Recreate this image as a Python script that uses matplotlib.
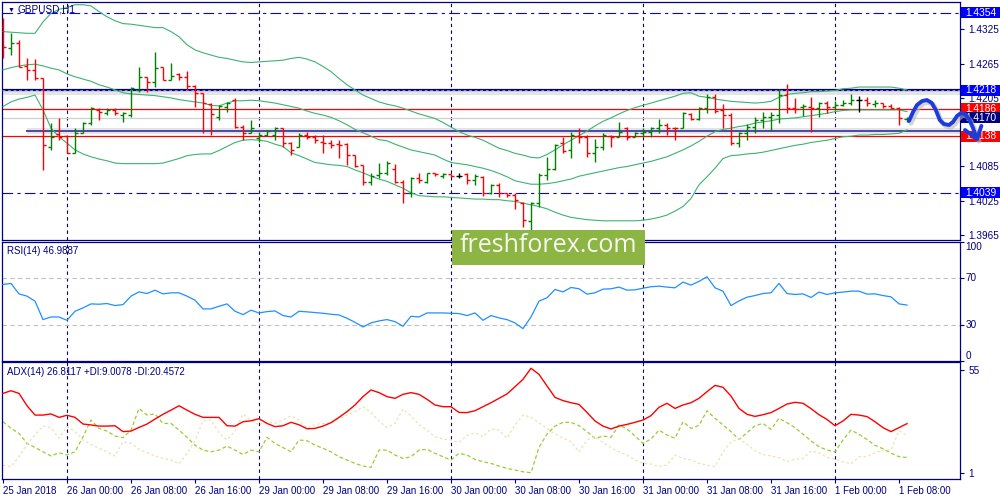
import matplotlib
matplotlib.use("Agg")
import matplotlib.pyplot as plt
import matplotlib.transforms as mtransforms
from matplotlib.patches import Rectangle
import numpy as np

plt.rcParams['font.family'] = ['Liberation Sans', 'DejaVu Sans']

# ---------------- data ----------------
symbol_title = "GBPUSD,H1"
time_labels = ["25 Jan 2018", "26 Jan 00:00", "26 Jan 08:00", "26 Jan 16:00",
               "29 Jan 00:00", "29 Jan 08:00", "29 Jan 16:00", "30 Jan 00:00",
               "30 Jan 08:00", "30 Jan 16:00", "31 Jan 00:00", "31 Jan 08:00",
               "31 Jan 16:00", "1 Feb 00:00", "1 Feb 08:00"]
bars_per_label = 8

opens = [1.43297, 1.42929, 1.43005, 1.42609, 1.42539, 1.42393, 1.41198, 1.41414, 1.41384, 1.41081,
         1.41431, 1.41606, 1.41839, 1.41781, 1.41839, 1.41752, 1.41752, 1.42189, 1.42422, 1.42335,
         1.42597, 1.42364, 1.42469, 1.42410, 1.42259, 1.42131, 1.41944, 1.41723, 1.41886, 1.42014,
         1.41548, 1.41431, 1.41344, 1.41402, 1.41402, 1.41519, 1.41268, 1.41198, 1.41402, 1.41373,
         1.41285, 1.41256, 1.41245, 1.41245, 1.41052, 1.40877, 1.40586, 1.40702, 1.40743, 1.40801,
         1.40586, 1.40382, 1.40644, 1.40586, 1.40731, 1.40685, 1.40720, 1.40691, 1.40720, 1.40615,
         1.40673, 1.40393, 1.40527, 1.40382, 1.40353, 1.40218, 1.39904, 1.40218, 1.40702, 1.40801,
         1.41256, 1.41140, 1.41384, 1.41373, 1.41093, 1.41198, 1.41390, 1.41373, 1.41519, 1.41373,
         1.41443, 1.41460, 1.41519, 1.41577, 1.41530, 1.41519, 1.41769, 1.41676, 1.41868, 1.42072,
         1.41839, 1.41752, 1.41268, 1.41443, 1.41548, 1.41664, 1.41723, 1.41752, 1.42102, 1.41868,
         1.41886, 1.41886, 1.41868, 1.41956, 1.41897, 1.41927, 1.41967, 1.42014, 1.42014, 1.41944,
         1.41956, 1.41909, 1.41868, 1.41676]
highs = [1.43442, 1.43180, 1.43063, 1.42743, 1.42725, 1.42393, 1.41606, 1.41693, 1.41402, 1.41519,
         1.41635, 1.41897, 1.41868, 1.41868, 1.41868, 1.41810, 1.42247, 1.42597, 1.42422, 1.42859,
         1.42597, 1.42655, 1.42480, 1.42527, 1.42276, 1.42142, 1.41956, 1.41927, 1.41985, 1.42043,
         1.41577, 1.41664, 1.41460, 1.41490, 1.41548, 1.41530, 1.41285, 1.41431, 1.41460, 1.41402,
         1.41402, 1.41314, 1.41314, 1.41268, 1.41052, 1.40877, 1.40731, 1.40906, 1.40953, 1.40895,
         1.40615, 1.40661, 1.40731, 1.40743, 1.40743, 1.40731, 1.40720, 1.40731, 1.40731, 1.40720,
         1.40685, 1.40539, 1.40568, 1.40393, 1.40382, 1.40236, 1.40236, 1.40731, 1.41023, 1.41245,
         1.41361, 1.41460, 1.41530, 1.41402, 1.41326, 1.41443, 1.41402, 1.41635, 1.41536, 1.41460,
         1.41519, 1.41548, 1.41676, 1.41606, 1.41548, 1.41810, 1.41781, 1.41886, 1.42113, 1.42113,
         1.41944, 1.41781, 1.41460, 1.41594, 1.41711, 1.41810, 1.41810, 1.42201, 1.42294, 1.42043,
         1.41944, 1.42072, 1.41985, 1.41997, 1.41997, 1.42014, 1.42113, 1.42090, 1.42072, 1.42014,
         1.41956, 1.41944, 1.41886, 1.41723]
lows = [1.42743, 1.42801, 1.42597, 1.42364, 1.42364, 1.40790, 1.41140, 1.41314, 1.41081, 1.41081,
        1.41431, 1.41577, 1.41664, 1.41752, 1.41752, 1.41635, 1.41723, 1.42160, 1.42160, 1.42247,
        1.42364, 1.42364, 1.42364, 1.42189, 1.41897, 1.41431, 1.41402, 1.41664, 1.41810, 1.41519,
        1.41314, 1.41431, 1.41285, 1.41384, 1.41314, 1.41198, 1.41052, 1.41186, 1.41326, 1.41256,
        1.41081, 1.41169, 1.40994, 1.40877, 1.40848, 1.40527, 1.40527, 1.40644, 1.40702, 1.40568,
        1.40207, 1.40312, 1.40557, 1.40568, 1.40685, 1.40644, 1.40661, 1.40644, 1.40545, 1.40527,
        1.40335, 1.40370, 1.40323, 1.40312, 1.40102, 1.39799, 1.39740, 1.40148, 1.40615, 1.40790,
        1.41081, 1.40994, 1.41256, 1.41023, 1.40936, 1.41140, 1.41198, 1.41373, 1.41314, 1.41361,
        1.41373, 1.41373, 1.41443, 1.41402, 1.41314, 1.41519, 1.41664, 1.41664, 1.41793, 1.41793,
        1.41519, 1.41227, 1.41186, 1.41314, 1.41431, 1.41519, 1.41478, 1.41606, 1.41781, 1.41781,
        1.41734, 1.41460, 1.41723, 1.41781, 1.41839, 1.41909, 1.41927, 1.41810, 1.41909, 1.41886,
        1.41868, 1.41851, 1.41577, 1.41635]
closes = [1.42947, 1.43005, 1.42597, 1.42539, 1.42393, 1.41227, 1.41373, 1.41373, 1.41081, 1.41431,
          1.41606, 1.41868, 1.41810, 1.41839, 1.41781, 1.41781, 1.42218, 1.42422, 1.42335, 1.42568,
          1.42364, 1.42434, 1.42410, 1.42259, 1.42131, 1.41956, 1.41769, 1.41909, 1.41956, 1.41548,
          1.41431, 1.41519, 1.41402, 1.41478, 1.41519, 1.41256, 1.41140, 1.41402, 1.41361, 1.41314,
          1.41256, 1.41227, 1.41227, 1.41052, 1.40860, 1.40586, 1.40685, 1.40743, 1.40906, 1.40586,
          1.40382, 1.40644, 1.40615, 1.40731, 1.40720, 1.40720, 1.40691, 1.40691, 1.40615, 1.40685,
          1.40393, 1.40527, 1.40382, 1.40353, 1.40265, 1.39915, 1.40218, 1.40702, 1.40801, 1.41227,
          1.41128, 1.41402, 1.41361, 1.41081, 1.41198, 1.41402, 1.41373, 1.41460, 1.41373, 1.41443,
          1.41460, 1.41530, 1.41577, 1.41530, 1.41519, 1.41781, 1.41676, 1.41868, 1.42072, 1.41827,
          1.41752, 1.41256, 1.41443, 1.41548, 1.41664, 1.41723, 1.41752, 1.42102, 1.41868, 1.41850,
          1.41909, 1.41868, 1.41956, 1.41897, 1.41927, 1.41967, 1.42014, 1.42014, 1.41956, 1.41967,
          1.41909, 1.41868, 1.41694, 1.41700]

bb_upper = [1.4321, 1.4320, 1.4319, 1.4318, 1.4318, 1.4338, 1.4353, 1.4360, 1.4363, 1.4368,
            1.4368, 1.4366, 1.4356, 1.4347, 1.4340, 1.4335, 1.4334, 1.4332, 1.4330, 1.4328,
            1.4328, 1.4321, 1.4312, 1.4298, 1.4289, 1.4284, 1.4280, 1.4276, 1.4274, 1.4271,
            1.4268, 1.4267, 1.4268, 1.4269, 1.4270, 1.4271, 1.4274, 1.4276, 1.4273, 1.4268,
            1.4260, 1.4251, 1.4239, 1.4228, 1.4219, 1.4210, 1.4204, 1.4198, 1.4194, 1.4191,
            1.4187, 1.4182, 1.4177, 1.4173, 1.4169, 1.4162, 1.4154, 1.4146, 1.4140, 1.4136,
            1.4131, 1.4124, 1.4117, 1.4113, 1.4108, 1.4105, 1.4101, 1.4100, 1.4106, 1.4114,
            1.4123, 1.4131, 1.4139, 1.4147, 1.4156, 1.4164, 1.4170, 1.4177, 1.4183, 1.4188,
            1.4192, 1.4196, 1.4200, 1.4204, 1.4208, 1.4213, 1.4214, 1.4208, 1.4206, 1.4203,
            1.4201, 1.4199, 1.4198, 1.4197, 1.4196, 1.4197, 1.4199, 1.4206, 1.4211, 1.4213,
            1.4214, 1.4216, 1.4216, 1.4217, 1.4218, 1.4221, 1.4222, 1.4224, 1.4224, 1.4224,
            1.4224, 1.4224, 1.4222, 1.4219]
bb_middle = [1.4254, 1.4258, 1.4261, 1.4263, 1.4264, 1.4261, 1.4257, 1.4254, 1.4247, 1.4242,
             1.4238, 1.4234, 1.4228, 1.4224, 1.4219, 1.4214, 1.4212, 1.4211, 1.4210, 1.4209,
             1.4207, 1.4205, 1.4202, 1.4200, 1.4198, 1.4196, 1.4192, 1.4191, 1.4196, 1.4200,
             1.4200, 1.4201, 1.4200, 1.4198, 1.4196, 1.4193, 1.4190, 1.4187, 1.4182, 1.4178,
             1.4175, 1.4171, 1.4165, 1.4158, 1.4150, 1.4144, 1.4138, 1.4132, 1.4130, 1.4124,
             1.4119, 1.4114, 1.4111, 1.4108, 1.4105, 1.4098, 1.4092, 1.4090, 1.4088, 1.4085,
             1.4082, 1.4078, 1.4073, 1.4067, 1.4060, 1.4057, 1.4054, 1.4054, 1.4055, 1.4057,
             1.4060, 1.4063, 1.4068, 1.4071, 1.4074, 1.4077, 1.4080, 1.4083, 1.4085, 1.4088,
             1.4091, 1.4094, 1.4098, 1.4102, 1.4108, 1.4114, 1.4121, 1.4129, 1.4138, 1.4146,
             1.4150, 1.4152, 1.4155, 1.4157, 1.4161, 1.4163, 1.4165, 1.4168, 1.4169, 1.4170,
             1.4172, 1.4174, 1.4176, 1.4178, 1.4181, 1.4183, 1.4184, 1.4184, 1.4184, 1.4184,
             1.4184, 1.4184, 1.4184, 1.4181]
bb_lower = [1.4190, 1.4198, 1.4203, 1.4206, 1.4210, 1.4184, 1.4152, 1.4137, 1.4126, 1.4114,
            1.4107, 1.4102, 1.4098, 1.4095, 1.4091, 1.4090, 1.4090, 1.4090, 1.4090, 1.4090,
            1.4091, 1.4095, 1.4099, 1.4104, 1.4106, 1.4107, 1.4107, 1.4113, 1.4120, 1.4127,
            1.4131, 1.4132, 1.4131, 1.4129, 1.4124, 1.4120, 1.4109, 1.4104, 1.4098, 1.4092,
            1.4090, 1.4088, 1.4087, 1.4085, 1.4079, 1.4074, 1.4068, 1.4063, 1.4059, 1.4053,
            1.4047, 1.4039, 1.4034, 1.4033, 1.4032, 1.4032, 1.4031, 1.4030, 1.4029, 1.4028,
            1.4028, 1.4027, 1.4027, 1.4025, 1.4024, 1.4021, 1.4018, 1.4015, 1.4011, 1.4005,
            1.4000, 1.3996, 1.3994, 1.3992, 1.3991, 1.3990, 1.3990, 1.3990, 1.3990, 1.3990,
            1.3991, 1.3993, 1.3996, 1.4000, 1.4007, 1.4015, 1.4029, 1.4053, 1.4067, 1.4082,
            1.4099, 1.4104, 1.4105, 1.4107, 1.4108, 1.4110, 1.4113, 1.4116, 1.4119, 1.4122,
            1.4124, 1.4127, 1.4129, 1.4131, 1.4134, 1.4137, 1.4138, 1.4140, 1.4140, 1.4141,
            1.4141, 1.4142, 1.4143, 1.4149]

rsi = [64.3, 65.2, 56.4, 54.5, 50.3, 34.8, 37.0, 37.0, 34.2, 41.8,
       44.6, 48.0, 47.7, 48.3, 46.6, 47.4, 54.5, 58.1, 56.7, 59.5,
       56.4, 57.3, 57.3, 54.5, 51.1, 43.8, 43.8, 46.0, 48.0, 41.8,
       39.0, 42.7, 40.4, 41.5, 42.1, 38.2, 37.0, 41.8, 41.3, 40.7,
       40.1, 39.3, 38.7, 35.9, 32.5, 28.6, 32.0, 33.7, 34.8, 33.1,
       29.2, 37.6, 37.0, 40.4, 40.4, 40.4, 40.1, 39.9, 38.2, 40.4,
       34.2, 38.2, 36.2, 34.8, 32.0, 27.2, 37.0, 50.3, 53.1, 60.1,
       58.1, 61.8, 60.7, 56.2, 57.3, 60.4, 60.7, 62.1, 59.5, 59.8,
       61.2, 62.4, 62.9, 62.1, 61.5, 66.3, 63.8, 66.9, 70.8, 61.5,
       58.7, 46.6, 50.5, 53.6, 55.0, 56.7, 57.3, 65.2, 56.7, 55.9,
       56.4, 53.4, 57.9, 55.9, 57.3, 57.9, 58.7, 58.7, 56.2, 56.4,
       55.0, 53.9, 48.0, 47.0]

adx = [42.7, 44.1, 42.7, 36.2, 31.3, 31.3, 31.9, 30.1, 31.2, 30.1,
       26.6, 26.1, 25.5, 25.5, 25.7, 22.6, 22.9, 24.8, 26.6, 29.2,
       31.7, 33.9, 36.2, 33.9, 31.7, 30.1, 30.1, 30.1, 25.7, 25.5,
       27.8, 28.3, 29.4, 26.9, 25.2, 25.7, 27.5, 26.2, 24.1, 24.3,
       25.5, 27.3, 30.1, 33.1, 36.6, 41.0, 44.5, 43.1, 41.0, 40.1,
       42.2, 43.1, 42.2, 39.6, 36.6, 35.7, 35.7, 32.7, 32.6, 33.6,
       35.7, 37.8, 40.1, 42.4, 46.2, 50.1, 55.9, 52.7, 46.6, 40.6,
       38.9, 37.8, 36.9, 32.7, 28.2, 25.5, 24.0, 25.5, 26.4, 27.5,
       28.7, 31.0, 35.4, 37.5, 34.8, 36.6, 37.8, 40.1, 43.6, 46.9,
       45.9, 41.3, 34.8, 31.7, 30.6, 31.5, 32.6, 34.8, 37.1, 38.0,
       37.5, 34.7, 31.5, 29.0, 25.7, 28.2, 31.7, 31.3, 30.5, 27.8,
       24.7, 22.6, 24.7, 26.8]
plus_di = [27.8, 24.3, 21.7, 16.4, 14.3, 12.0, 9.8, 11.5, 10.3, 12.0,
           19.9, 28.7, 24.3, 22.9, 20.3, 19.4, 23.4, 34.8, 31.3, 31.9,
           26.9, 26.9, 23.4, 19.6, 15.5, 12.9, 12.0, 12.9, 15.0, 12.9,
           10.6, 12.9, 12.0, 19.6, 16.4, 14.2, 12.0, 18.2, 17.8, 15.5,
           13.8, 12.0, 9.4, 7.7, 5.9, 4.5, 3.8, 12.9, 12.9, 10.3,
           8.5, 9.4, 12.9, 13.3, 11.2, 9.4, 7.7, 11.2, 10.3, 8.0,
           6.8, 5.9, 4.5, 3.3, 2.4, 1.5, 1.0, 14.3, 21.3, 25.5,
           27.5, 27.5, 25.7, 22.6, 19.1, 20.3, 19.6, 26.1, 24.0, 20.3,
           16.4, 18.7, 23.4, 20.8, 19.1, 27.8, 24.3, 25.9, 33.6, 29.6,
           26.1, 22.6, 18.5, 22.0, 25.7, 26.9, 23.8, 29.6, 27.3, 24.7,
           21.3, 17.7, 14.7, 12.9, 12.0, 18.2, 23.4, 21.2, 18.5, 15.4,
           13.6, 11.3, 9.4, 9.0]
minus_di = [5.0, 4.2, 9.4, 15.9, 20.8, 25.5, 24.7, 19.1, 25.2, 22.6,
            18.2, 15.9, 13.8, 12.0, 9.8, 17.3, 16.4, 13.3, 11.5, 9.8,
            8.5, 7.7, 5.6, 11.2, 17.8, 28.4, 28.7, 22.0, 18.2, 22.9,
            31.9, 28.7, 26.1, 27.8, 26.9, 28.7, 31.0, 28.7, 24.3, 26.4,
            26.9, 26.9, 29.4, 31.3, 33.1, 35.7, 32.6, 28.2, 24.7, 26.9,
            34.5, 30.8, 26.4, 23.4, 19.9, 18.7, 18.2, 16.9, 20.6, 22.0,
            19.9, 24.0, 23.4, 19.1, 26.1, 31.3, 30.1, 27.3, 24.3, 21.3,
            19.1, 17.3, 11.9, 18.2, 19.9, 16.8, 14.3, 12.0, 10.3, 7.7,
            5.9, 5.6, 4.2, 5.0, 10.3, 8.5, 7.7, 5.9, 5.0, 4.2,
            11.9, 17.3, 18.9, 15.9, 12.6, 10.5, 9.9, 8.9, 6.8, 8.0,
            8.5, 12.4, 11.5, 9.1, 8.0, 6.8, 5.6, 9.4, 9.4, 11.5,
            12.9, 12.9, 23.1, 20.5]

rsi_caption = "RSI(14) 46.9887"
adx_caption = "ADX(14) 26.8117 +DI:9.0078 -DI:20.4572"

dashdot_levels = [1.4354, 1.4039]
resistance_level = 1.4218
red_levels = [1.4186, 1.4138]
bid_price = 1.4170
support_line_level = 1.4147
support_line_start = 3
price_ticks = [1.4325, 1.4265, 1.4205, 1.4085, 1.4025, 1.3965]
rsi_levels = [30, 70]
rsi_ticks = [0, 30, 70, 100]
adx_ticks = [1, 55]

# hand-drawn forecast path (bar position, price)
forecast_x = [113.25, 113.75, 114.25, 114.9, 115.5, 116.1, 116.6, 117.1, 117.6, 118.25,
              118.75, 119.25, 119.75, 120.25, 120.75, 121.25, 121.75]
forecast_y = [1.41646, 1.41803, 1.41926, 1.41996, 1.42013, 1.41961, 1.41838, 1.41663, 1.41594,
              1.41576, 1.41629, 1.41733, 1.41786, 1.41768, 1.41681, 1.41524, 1.41331]
arrow_x = [120.25, 121.75, 122.3]
arrow_y = [1.41489, 1.41331, 1.41560]

# ---------------- drawing ----------------
NAVY = '#000080'
W, H = 1000, 500
fig = plt.figure(figsize=(10, 5), dpi=100)
fig.patch.set_facecolor('white')


def rect(x0, y0, x1, y1):
    return [x0 / W, 1 - y1 / H, (x1 - x0) / W, (y1 - y0) / H]


ax = fig.add_axes(rect(2, 2, 960, 240))
ax_rsi = fig.add_axes(rect(2, 242, 960, 361))
ax_adx = fig.add_axes(rect(2, 362, 960, 479))

n = len(opens)
idx = np.arange(n)
label_pos = idx[::bars_per_label][:len(time_labels)]
day_starts = [p for p, l in zip(label_pos, time_labels) if l.endswith('00:00')]

for a in (ax, ax_rsi, ax_adx):
    for s in a.spines.values():
        s.set_color(NAVY)
        s.set_linewidth(0.9)
    a.tick_params(axis='x', which='both', bottom=False, labelbottom=False)
    a.yaxis.tick_right()
    a.tick_params(axis='y', direction='out', length=3, color=NAVY, labelcolor=NAVY,
                  labelsize=7.2, pad=3)
    for d in day_starts:
        a.axvline(d, color=NAVY, lw=0.8, ls=(0, (3, 3)), zorder=1)

# ---- main price panel ----
for lv in dashdot_levels:
    ax.axhline(lv, color='#0000FF', lw=0.8, ls=(0, (9.6, 3.8, 2.9, 3.8)), zorder=2)
ax.axhspan(resistance_level - 0.0008, resistance_level, color='#E4E4E4', lw=0, zorder=1.2)
ax.axhline(resistance_level, color='#00008C', lw=1.6, zorder=2.5)
ax.axhline(resistance_level, color='#C8C8C8', lw=0.5, ls=(0, (4, 4)), zorder=2.6)
for lv in red_levels:
    ax.axhline(lv, color='#FF0000', lw=0.9, zorder=2.2)
ax.axhline(bid_price, color='#CFCFCF', lw=0.9, zorder=1.5)
ax.fill_between([support_line_start, 125], support_line_level - 0.00045,
                support_line_level + 0.00045, color='#E4E4E4', lw=0, zorder=1.2)
ax.plot([support_line_start, 125], [support_line_level] * 2, color='#4848A8', lw=1.4,
        zorder=2.4, clip_on=True)

ax.plot(idx, bb_upper, color='#3CB371', lw=0.8, zorder=3)
ax.plot(idx, bb_middle, color='#3CB371', lw=0.8, zorder=3)
ax.plot(idx, bb_lower, color='#3CB371', lw=0.8, zorder=3)

o = np.array(opens); c = np.array(closes)
bar_colors = ['#008000' if cc > oo else ('#FF0000' if cc < oo else '#000000')
              for oo, cc in zip(o, c)]
ax.vlines(idx, lows, highs, colors=bar_colors, lw=1.0, zorder=4)
ax.hlines(opens, idx - 0.42, idx, colors=bar_colors, lw=1.0, zorder=4)
ax.hlines(closes, idx, idx + 0.42, colors=bar_colors, lw=1.0, zorder=4)

ax.set_xlim(-0.125, 119.625)
ax.set_ylim(1.39564, 1.43728)
ax.set_yticks(price_ticks)
ax.set_yticklabels([f"{p:.4f}" for p in price_ticks])

btrans = mtransforms.blended_transform_factory(ax.transAxes, ax.transData)
ax_w_px = 958.0
box_h = 11.0 / 5717.0


def price_box(val, fc):
    ax.add_patch(Rectangle((1.0 + 1.0 / ax_w_px, val - box_h / 2), 40.0 / ax_w_px, box_h,
                           transform=btrans, fc=fc, ec='none', clip_on=False, zorder=9))
    ax.text(1.0 + 5.0 / ax_w_px, val, f"{val:.4f}", transform=btrans, ha='left',
            va='center', fontsize=7.4, color='white', zorder=10, clip_on=False)


for lv in dashdot_levels:
    price_box(lv, '#0000FF')
price_box(resistance_level, '#0000FF')
for lv in red_levels:
    price_box(lv, '#FF0000')
price_box(bid_price, '#000080')

shadow_dx, shadow_dy = 0.25, -0.0004
ax.plot(np.array(forecast_x) + shadow_dx, np.array(forecast_y) + shadow_dy, color='#B8B8B8',
        lw=3.5, alpha=0.6, solid_capstyle='round', solid_joinstyle='round',
        clip_on=False, zorder=19)
ax.plot(forecast_x, forecast_y, color='#1E3CDC', lw=2.8, solid_capstyle='round',
        solid_joinstyle='round', clip_on=False, zorder=20)
ax.plot(arrow_x, arrow_y, color='#1E3CDC', lw=2.8, solid_capstyle='round',
        solid_joinstyle='round', clip_on=False, zorder=20)

# ---- RSI panel ----
for lv in rsi_levels:
    ax_rsi.axhline(lv, color='#C0C0C0', lw=0.8, ls=(0, (4, 3)), zorder=1)
ax_rsi.plot(idx, rsi, color='#1E90FF', lw=0.9, zorder=3)
ax_rsi.set_xlim(-0.125, 119.625)
ax_rsi.set_ylim(0, 100)
ax_rsi.set_yticks(rsi_ticks)
ax_rsi.set_yticklabels([])
rtrans = mtransforms.blended_transform_factory(ax_rsi.transAxes, ax_rsi.transData)
for t in rsi_ticks:
    va = 'top' if t == 100 else ('bottom' if t == 0 else 'center')
    ax_rsi.text(1.006, t, str(t), transform=rtrans, ha='left', va=va, fontsize=7.2,
                color=NAVY, clip_on=False)

# ---- ADX panel ----
ax_adx.plot(idx, plus_di, color='#9ACD32', lw=0.9, ls=(0, (3, 2)), zorder=2)
ax_adx.plot(idx, minus_di, color='#F5DEB3', lw=0.9, ls=(0, (2, 2)), zorder=2)
ax_adx.plot(idx, adx, color='#FF0000', lw=1.0, zorder=3)
ax_adx.set_xlim(-0.125, 119.625)
ax_adx.set_ylim(-2.3, 59.2)
ax_adx.set_yticks(adx_ticks)
ax_adx.set_yticklabels([str(t) for t in adx_ticks])
ax_adx.set_xticks(label_pos)
ax_adx.set_xticklabels(time_labels, ha='left', fontsize=7, color=NAVY)
ax_adx.tick_params(axis='x', bottom=True, labelbottom=True, length=3, direction='out',
                   color=NAVY, pad=2)

# ---- panel captions ----
fig.text(8 / W, 1 - 10 / H, '▼', fontsize=5, color=NAVY, va='center', ha='left')
fig.text(18 / W, 1 - 10 / H, symbol_title, fontsize=7.2, color=NAVY, va='center', ha='left')
fig.text(7 / W, 1 - 251.5 / H, rsi_caption, fontsize=7, color=NAVY, va='center', ha='left')
fig.text(7 / W, 1 - 372 / H, adx_caption, fontsize=7, color=NAVY, va='center', ha='left')

# ---- watermark ----
fig.patches.append(Rectangle((452 / W, 1 - 264.5 / H), 193 / W, 35 / H,
                             transform=fig.transFigure, fc='#8DB543', ec='none', zorder=5))
fig.text(548.5 / W, 1 - 246 / H, 'freshforex.com', color='#F6F9EE', fontsize=18,
         family=['Open Sans', 'DejaVu Sans'], ha='center', va='center', zorder=6)

fig.savefig('out.png', dpi=100, facecolor='white')
